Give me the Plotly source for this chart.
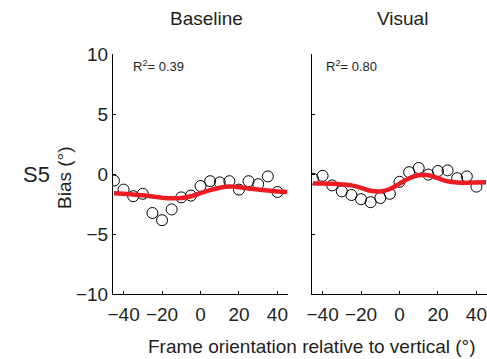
import plotly.graph_objects as go

# ---- data ----
angles = [-45, -40, -35, -30, -25, -20, -15, -10, -5, 0, 5, 10, 15, 20, 25, 30, 35, 40]
baseline_bias = [-0.55, -1.3, -1.85, -1.65, -3.25, -3.85, -2.95, -1.95, -1.8, -1.0,
                 -0.6, -0.7, -0.6, -1.3, -0.6, -0.85, -0.2, -1.5]
visual_bias = [-0.4, -0.15, -0.95, -1.45, -1.75, -2.1, -2.35, -2.0, -1.65, -0.65,
               0.15, 0.5, -0.05, 0.25, 0.3, -0.35, -0.2, -1.05]

fit_angles = [-45, -40, -35, -30, -25, -20, -15, -10, -5, 0, 5, 10, 15, 20, 25, 30, 35, 40, 45]
baseline_fit = [-1.6, -1.65, -1.7, -1.78, -1.88, -1.97, -2.02, -2.0, -1.85, -1.6,
                -1.35, -1.15, -1.05, -1.1, -1.2, -1.3, -1.38, -1.45, -1.5]
visual_fit = [-0.8, -0.8, -0.82, -0.87, -0.95, -1.15, -1.4, -1.45, -1.25, -0.8,
              -0.35, -0.1, -0.1, -0.35, -0.6, -0.7, -0.72, -0.7, -0.68]

panel_titles = ["Baseline", "Visual"]
r2_texts = ["R<sup>2</sup>= 0.39", "R<sup>2</sup>= 0.80"]
x_ticks = [-40, -20, 0, 20, 40]
x_ticktext = ["\u221240", "\u221220", "0", "20", "40"]
y_ticks = [-10, -5, 0, 5, 10]
y_ticktext = ["\u221210", "\u22125", "0", "5", "10"]

W, H = 487, 359
FONT = "Liberation Sans, Arial, sans-serif"
TXT = "#231f20"
RED = "#ed1c24"

fig = go.Figure()

series = [(baseline_bias, baseline_fit, "x", "y"), (visual_bias, visual_fit, "x2", "y2")]
for bias, fit, xa, ya in series:
    fig.add_trace(go.Scatter(x=angles, y=bias, mode="markers", xaxis=xa, yaxis=ya,
                             marker=dict(symbol="circle-open", size=11, color="black",
                                         line=dict(width=1)),
                             showlegend=False, hoverinfo="skip"))
    fig.add_trace(go.Scatter(x=fit_angles, y=fit, mode="lines", xaxis=xa, yaxis=ya,
                             line=dict(color=RED, width=4.5, shape="spline"),
                             showlegend=False, hoverinfo="skip"))

def px(x):
    return x / W

def py(y):
    return 1 - y / H

ydom = [py(294), py(54)]
common_x = dict(range=[-45.5, 45.5], tickvals=x_ticks, ticktext=x_ticktext,
                ticks="inside", ticklen=3, tickcolor="black", showline=True,
                linecolor="black", linewidth=1, showgrid=False, zeroline=False,
                ticklabelstandoff=3, ticklabeloverflow="allow", automargin=False,
                tickfont=dict(family=FONT, size=19, color=TXT))
common_y = dict(range=[-10, 10], tickvals=y_ticks, ticktext=y_ticktext, domain=ydom,
                ticks="inside", ticklen=3, tickcolor="black", showline=True,
                linecolor="black", linewidth=1, showgrid=False, zeroline=False,
                ticklabeloverflow="allow", automargin=False,
                tickfont=dict(family=FONT, size=19, color=TXT))

fig.update_layout(
    width=W, height=H, margin=dict(l=0, r=0, t=0, b=0),
    paper_bgcolor="white", plot_bgcolor="white",
    xaxis=dict(domain=[px(113), px(288)], anchor="y", **common_x),
    yaxis=dict(anchor="x", **common_y),
    xaxis2=dict(domain=[px(312), px(487)], anchor="y2", **common_x),
    yaxis2=dict(anchor="x2", showticklabels=False, **common_y),
)

ann = []
# panel titles
for t, cx in zip(panel_titles, [206, 402]):
    ann.append(dict(text=t, x=px(cx), y=py(18), xref="paper", yref="paper",
                    xanchor="center", yanchor="middle", showarrow=False,
                    font=dict(family=FONT, size=19, color=TXT)))
# R^2
for t, lx in zip(r2_texts, [131, 324]):
    ann.append(dict(text=t, x=px(lx), y=py(66), xref="paper", yref="paper",
                    xanchor="left", yanchor="middle", showarrow=False,
                    font=dict(family=FONT, size=13, color=TXT)))
# S5
ann.append(dict(text="S5", x=px(36), y=py(174), xref="paper", yref="paper",
                xanchor="center", yanchor="middle", showarrow=False,
                font=dict(family=FONT, size=22, color=TXT)))
# y label
ann.append(dict(text="Bias (°)", x=px(64), y=py(178), xref="paper", yref="paper",
                xanchor="center", yanchor="middle", showarrow=False, textangle=-90,
                font=dict(family=FONT, size=19, color=TXT)))
# x label
ann.append(dict(text="Frame orientation relative to vertical (°)", x=px(312), y=py(346),
                xref="paper", yref="paper", xanchor="center", yanchor="middle",
                showarrow=False, font=dict(family=FONT, size=19, color=TXT)))
fig.update_layout(annotations=ann)

fig.write_html("out.html")
